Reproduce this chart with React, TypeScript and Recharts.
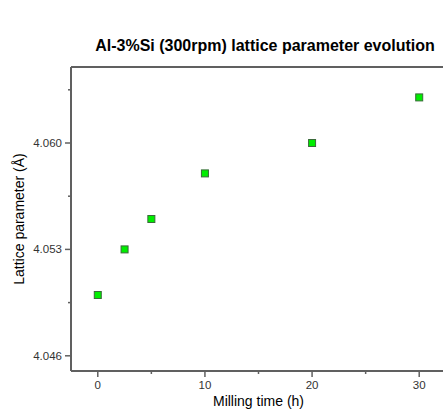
import React from "react";
import {
  ScatterChart,
  Scatter,
  XAxis,
  YAxis,
  ReferenceLine,
} from "recharts";

const millingTime = [0, 2.5, 5, 10, 20, 30];
const latticeParam = [4.05, 4.053, 4.055, 4.058, 4.06, 4.063];
const xTicks = [0, 5, 10, 15, 20, 25, 30];
const yTicks = [4.046, 4.0495, 4.053, 4.0565, 4.06, 4.0635];
const yLabels = ["4.046", "", "4.053", "", "4.060", ""];

const data = millingTime.map((t, i) => ({ t, a: latticeParam[i] }));

const AXIS = "#606060";
const FONT = "'Liberation Sans', Arial, sans-serif";

const XTick = (props: any) => {
  const { x, y, index, payload } = props;
  const major = index % 2 === 0;
  return (
    <g>
      <line x1={x} y1={y} x2={x} y2={y + (major ? 6 : 3)} stroke={AXIS} strokeWidth={1.5} />
      {major && (
        <text x={x} y={y + 18} textAnchor="middle" fontSize={11.5} fill="#333" fontFamily={FONT}>
          {payload.value}
        </text>
      )}
    </g>
  );
};

const YTick = (props: any) => {
  const { x, y, index } = props;
  const major = index % 2 === 0;
  return (
    <g>
      <line x1={x} y1={y} x2={x - (major ? 6 : 3)} y2={y} stroke={AXIS} strokeWidth={1.5} />
      {major && (
        <text x={x - 9} y={y + 4} textAnchor="end" fontSize={11.5} fill="#333" fontFamily={FONT}>
          {yLabels[index]}
        </text>
      )}
    </g>
  );
};

const SquareDot = (props: any) => {
  const { cx, cy } = props;
  return (
    <rect x={cx - 3.5} y={cy - 3.5} width={7} height={7} fill="#00ee00" stroke="#3a6a3a" strokeWidth={1} />
  );
};

export default function App() {
  return (
    <div style={{ position: "fixed", left: 0, top: 0, width: 443, height: 418, overflow: "hidden", background: "#fff" }}>
      <ScatterChart width={470} height={418} margin={{ top: 67, right: 24, bottom: 0, left: 11 }}>
        <text x={265} y={51} textAnchor="middle" fontSize={16} fontWeight="bold" fontFamily={FONT} fill="#000">
          Al-3%Si (300rpm) lattice parameter evolution
        </text>
        <XAxis
          type="number"
          dataKey="t"
          domain={[-2.5, 32.5]}
          ticks={xTicks}
          allowDataOverflow
          tickLine={false}
          tickSize={0}
          tickMargin={0}
          tick={<XTick />}
          axisLine={{ stroke: AXIS, strokeWidth: 2 }}
          height={47}
          label={{ value: "Milling time (h)", position: "insideBottom", offset: 12, fontSize: 14, fill: "#000", fontFamily: FONT }}
        />
        <YAxis
          type="number"
          dataKey="a"
          domain={[4.045, 4.065]}
          ticks={yTicks}
          allowDataOverflow
          tickLine={false}
          tickSize={0}
          tickMargin={0}
          tick={<YTick />}
          axisLine={{ stroke: AXIS, strokeWidth: 2 }}
          width={60}
          label={{ value: "Lattice parameter (Å)", angle: -90, position: "insideLeft", offset: 8, fontSize: 14, fill: "#000", fontFamily: FONT, style: { textAnchor: "middle" } }}
        />
        <ReferenceLine y={4.065} stroke={AXIS} strokeWidth={2} ifOverflow="visible" />
        <ReferenceLine x={32.5} stroke={AXIS} strokeWidth={2} ifOverflow="visible" />
        <Scatter data={data} shape={<SquareDot />} isAnimationActive={false} />
      </ScatterChart>
    </div>
  );
}
